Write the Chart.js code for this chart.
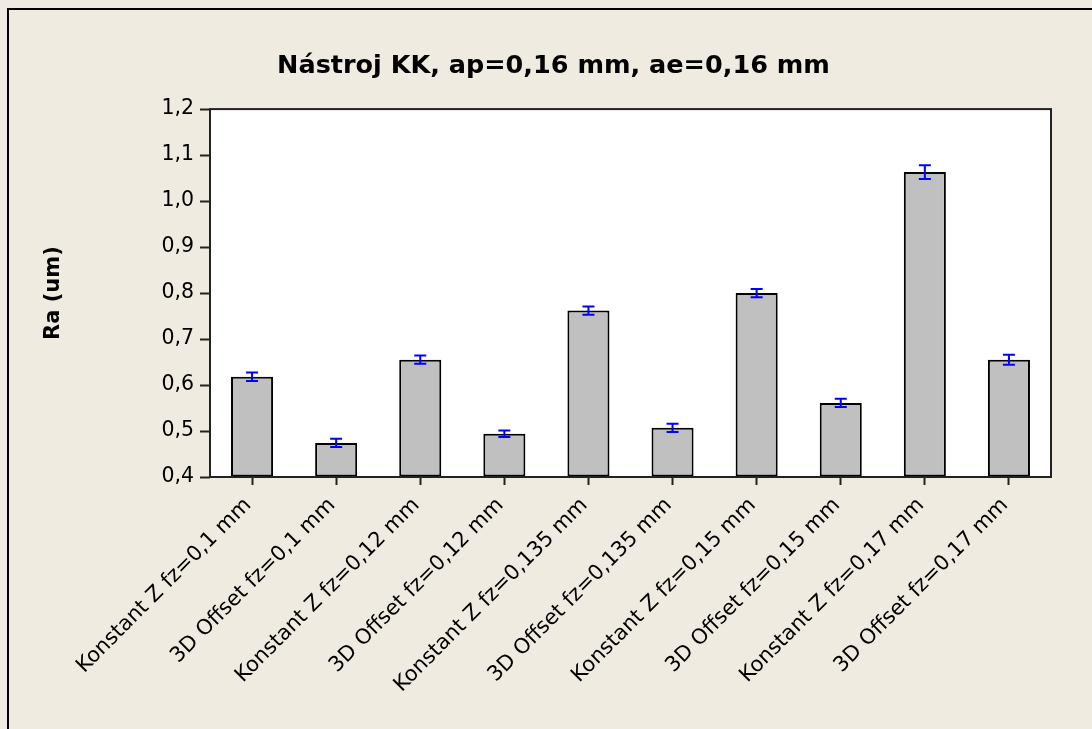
<!DOCTYPE html>
<html>
<head>
<meta charset="utf-8">
<title>Nástroj KK</title>
<script src="https://cdn.jsdelivr.net/npm/chart.js@4/dist/chart.umd.min.js"></script>
<style>
  html, body { margin: 0; padding: 0; background: #EFEBE1; }
  canvas { display: block; }
</style>
</head>
<body>
<canvas id="raChart" width="1092" height="729"></canvas>
<script>
// Ra values per strategy / feed per tooth
const categories = [
  'Konstant Z fz=0,1 mm', '3D Offset fz=0,1 mm',
  'Konstant Z fz=0,12 mm', '3D Offset fz=0,12 mm',
  'Konstant Z fz=0,135 mm', '3D Offset fz=0,135 mm',
  'Konstant Z fz=0,15 mm', '3D Offset fz=0,15 mm',
  'Konstant Z fz=0,17 mm', '3D Offset fz=0,17 mm'
];
const raMean = [0.618, 0.474, 0.655, 0.494, 0.762, 0.507, 0.800, 0.561, 1.063, 0.655];
const raError = [0.009, 0.009, 0.009, 0.007, 0.009, 0.009, 0.009, 0.009, 0.015, 0.011];
const yTicks = [0.4, 0.5, 0.6, 0.7, 0.8, 0.9, 1.0, 1.1, 1.2];

const commaFmt = v => v.toFixed(1).replace('.', ',');

// beige page, outer frame and white plot box
const framePlugin = {
  id: 'frame',
  beforeDraw(chart) {
    const ctx = chart.ctx;
    const a = chart.chartArea;
    ctx.save();
    ctx.fillStyle = '#EFEBE1';
    ctx.fillRect(0, 0, chart.width, chart.height);
    ctx.strokeStyle = '#000';
    ctx.lineWidth = 2;
    ctx.beginPath();
    ctx.moveTo(8, chart.height + 5);
    ctx.lineTo(8, 9);
    ctx.lineTo(chart.width + 5, 9);
    ctx.stroke();
    ctx.fillStyle = '#fff';
    ctx.fillRect(a.left, a.top, a.right - a.left, a.bottom - a.top);
    ctx.restore();
  },
  afterDraw(chart) {
    const ctx = chart.ctx;
    const a = chart.chartArea;
    ctx.save();
    ctx.strokeStyle = '#222';
    ctx.lineWidth = 2;
    ctx.strokeRect(a.left, a.top, a.right - a.left, a.bottom - a.top);
    ctx.restore();
  }
};

// +/- error whiskers on top of each bar
const errorBarPlugin = {
  id: 'errorBars',
  afterDatasetsDraw(chart) {
    const ctx = chart.ctx;
    const y = chart.scales.y;
    const bars = chart.getDatasetMeta(0).data;
    ctx.save();
    ctx.strokeStyle = '#0000FF';
    ctx.lineWidth = 2;
    bars.forEach((bar, i) => {
      const top = y.getPixelForValue(raMean[i] + raError[i]);
      const bot = y.getPixelForValue(raMean[i] - raError[i]);
      const cap = 6;
      ctx.beginPath();
      ctx.moveTo(bar.x, top);
      ctx.lineTo(bar.x, bot);
      ctx.moveTo(bar.x - cap, top);
      ctx.lineTo(bar.x + cap, top);
      ctx.moveTo(bar.x - cap, bot);
      ctx.lineTo(bar.x + cap, bot);
      ctx.stroke();
    });
    ctx.restore();
  }
};

Chart.defaults.font.family = '"DejaVu Sans", Verdana, sans-serif';
Chart.defaults.color = '#000';

new Chart(document.getElementById('raChart'), {
  type: 'bar',
  data: {
    labels: categories,
    datasets: [{
      label: 'Ra (um)',
      data: raMean,
      backgroundColor: '#C0C0C0',
      borderColor: '#000',
      borderWidth: 2,
      borderSkipped: false,
      base: 0.4,
      barPercentage: 0.5,
      categoryPercentage: 1.0
    }]
  },
  options: {
    responsive: false,
    animation: false,
    devicePixelRatio: 1,
    // the frame runs past the right edge, so the title centres a bit right of the canvas middle
    layout: { padding: { left: 0, right: -15, top: 0, bottom: 0 } },
    plugins: {
      legend: { display: false },
      tooltip: { enabled: false },
      title: {
        display: true,
        text: 'Nástroj KK, ap=0,16 mm, ae=0,16 mm',
        color: '#000',
        font: { size: 25.5, weight: 'bold' },
        padding: { top: 51, bottom: 27.5 }
      }
    },
    scales: {
      x: {
        offset: true,
        grid: {
          offset: false,
          drawOnChartArea: false,
          drawTicks: true,
          tickLength: 8,
          tickWidth: 2,
          color: '#222'
        },
        border: { display: false },
        ticks: {
          autoSkip: false,
          minRotation: 45,
          maxRotation: 45,
          padding: 8,
          labelOffset: -4,
          font: { size: 21 }
        },
        afterFit(scale) { scale.height = 252; }
      },
      y: {
        min: 0.4,
        max: 1.2,
        afterBuildTicks(scale) {
          scale.ticks = yTicks.map(v => ({ value: v }));
        },
        grid: {
          drawOnChartArea: false,
          drawTicks: true,
          tickLength: 10,
          tickWidth: 2,
          color: '#222'
        },
        border: { display: false },
        ticks: {
          padding: 6,
          font: { size: 20.5 },
          callback: v => commaFmt(v)
        },
        title: {
          display: true,
          text: 'Ra (um)',
          font: { size: 21, weight: 'bold' },
          padding: { top: 41 }
        },
        afterFit(scale) { scale.width = 210; }
      },
      // empty right margin between plot box and canvas edge
      yRight: {
        position: 'right',
        display: true,
        grid: { display: false },
        border: { display: false },
        ticks: { display: false },
        afterFit(scale) { scale.width = 56; }
      }
    }
  },
  plugins: [framePlugin, errorBarPlugin]
});
</script>
</body>
</html>
